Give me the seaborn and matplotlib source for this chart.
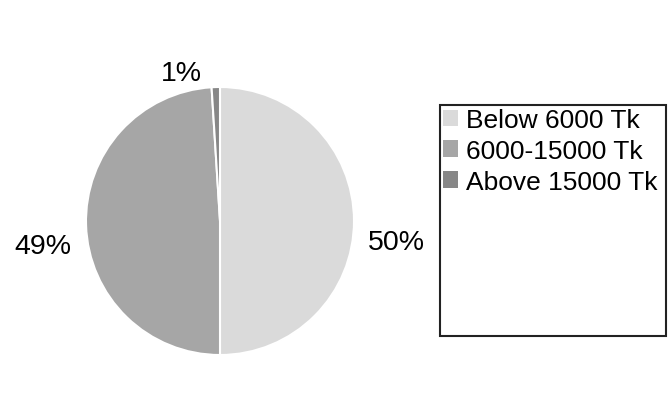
import matplotlib
matplotlib.use("Agg")
import matplotlib.pyplot as plt
from matplotlib.patches import Patch, Rectangle
import seaborn as sns

# income groups and their share (%)
categories = ["Below 6000 Tk", "6000-15000 Tk", "Above 15000 Tk"]
shares = [50, 49, 1]
colors = ["#dadada", "#a6a6a6", "#878787"]

sns.set_style("white")
plt.rcParams["font.family"] = ["Liberation Sans", "DejaVu Sans"]

fig = plt.figure(figsize=(6.68, 4.06), dpi=100)
ax = fig.add_axes([86 / 668, (406 - 222 - 134) / 406, 268 / 668, 268 / 406])

wedges, texts, autotexts = ax.pie(
    shares, colors=sns.color_palette(colors), startangle=90, counterclock=False,
    autopct="%.0f%%", pctdistance=1.32,
    wedgeprops=dict(edgecolor="white", linewidth=1.5),
    textprops=dict(fontsize=20.5, color="black"),
)
ax.set_xlim(-1, 1)
ax.set_ylim(-1, 1)
ax.set_aspect("equal")
for w in wedges:
    w.set_clip_on(False)

# excel-style label placement, nudged from the default spot
nudges = [(0.0, -0.155), (0.0, -0.145), (-0.25, -0.215)]
for t, (dx, dy) in zip(autotexts, nudges):
    x, y = t.get_position()
    t.set_position((x + dx, y + dy))
    t.set_clip_on(False)

# legend box, the last label runs into its right edge like the original
box = Rectangle((440 / 668, 1 - 337 / 406), 226 / 668, 231 / 406,
                transform=fig.transFigure, fill=False,
                edgecolor="#222222", linewidth=1.5)
fig.patches.append(box)

handles = [Patch(facecolor=c, edgecolor="none") for c in colors]
leg = fig.legend(handles, categories, loc="upper left",
                 bbox_to_anchor=(443 / 668, 1 - 109 / 406),
                 frameon=False, fontsize=19, labelcolor="black",
                 borderpad=0, borderaxespad=0,
                 handlelength=0.57, handleheight=0.57, handletextpad=0.3,
                 labelspacing=0.26)
for t in leg.get_texts():
    t.set_clip_path(box)

fig.savefig("out.png", dpi=100, facecolor="white")
